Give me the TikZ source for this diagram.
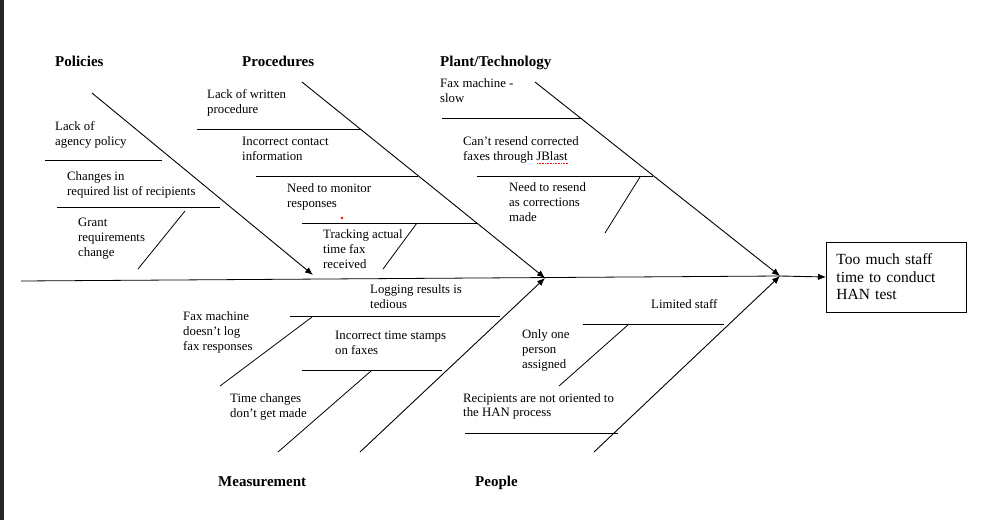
\documentclass[tikz,border=0pt]{standalone}
\usepackage{fontspec}
\setmainfont{Liberation Serif}
\usepackage{tikz}
\usetikzlibrary{arrows.meta}
\usetikzlibrary{positioning}

\begin{document}
\begin{tikzpicture}[x=1pt, y=-1pt,
        cause/.style={anchor=base west, inner sep=0pt, align=left, font=\fontsize{12.8}{14.7}\selectfont},
        group/.style={anchor=base west, inner sep=0pt, font=\fontsize{15}{18}\selectfont\bfseries},
        effect/.style={rectangle, draw=black, line width=0.9pt, anchor=west, text width=120pt, inner xsep=10pt, minimum height=70pt, align=left, font=\fontsize{15.5}{17.5}\selectfont},
        bone/.style={line width=0.8pt},
        spine/.style={line width=0.9pt, -{Latex[length=8pt,width=6.5pt]}}
      ]
        \useasboundingbox (0,0) rectangle (985,520);
        \fill[black!85] (0,0) rectangle (4,520);

        % main spine and effect
        \coordinate (tail) at (21,281);
        \coordinate (jA)   at (545,278);
        \coordinate (jB)   at (780,276);
        \node[effect] (effect) at (826,277) {Too much staff time to conduct HAN test};
        \draw[bone]  (tail) -- (jB);
        \draw[spine] (jB) -- (effect.west);

        % group labels
        \node[group] (policies)   at (55,66.7)  {Policies};
        \node[group] (procedures) at (242,66.7) {Procedures};
        \node[group] (plant)      at (440,66)   {Plant/Technology};
        \node[group] (measure)    at (218,486)  {Measurement};
        \node[group] (people)     at (475,486)  {People};

        % main bones
        \coordinate (polTop) at (92,93);
        \coordinate (polEnd) at (313,275);
        \coordinate (proTop) at (302,82);
        \coordinate (plaTop) at (535,82);
        \coordinate (meaBot) at (360,452);
        \coordinate (peoBot) at (594,452);
        \draw[spine] (polTop) -- (polEnd);
        \draw[spine] (proTop) -- (jA);
        \draw[spine] (plaTop) -- (jB);
        \draw[spine] (meaBot) -- (jA);
        \draw[spine] (peoBot) -- (jB);

        % policies (base = last line)
        \node[cause] (pol1) at (55,145) {Lack of\\agency policy};
        \node[cause] (pol2) at (67,195) {Changes in\\required list of recipients};
        \node[cause] (pol3) at (78,256) {Grant\\requirements\\change};
        \draw[bone] (45,160) -- (162,160);
        \draw[bone] (57,207) -- (220,207);
        \draw[bone] (185,211) -- (138,269);

        % procedures
        \node[cause] (pro1) at (207,113) {Lack of written\\procedure};
        \node[cause] (pro2) at (242,160) {Incorrect contact\\information};
        \node[cause] (pro3) at (287,207) {Need to monitor\\responses};
        \node[cause] (pro4) at (323,268) {Tracking actual\\time fax\\received};
        \draw[bone] (197,129) -- (360,129);
        \draw[bone] (256,176) -- (418,176);
        \draw[bone] (302,223) -- (477,223);
        \draw[bone] (417,223) -- (383,269);
        \fill[red] (342,218) circle (1.3);

        % plant/technology
        \node[cause] (pla1) at (440,102) {Fax machine -\\slow};
        \node[cause] (pla2) at (463,160) {Can't resend corrected\\faxes through JBlast};
        \node[cause] (pla3) at (509,221) {Need to resend\\as corrections\\made};
        \draw[bone] (442,118) -- (582,118);
        \draw[bone] (477,176) -- (653,176);
        \draw[bone] (640,177) -- (605,233);
        \draw[red, densely dotted, line width=0.6pt] (537,163) -- (568,163);

        % measurement
        \node[cause] (mea1) at (370,308) {Logging results is\\tedious};
        \node[cause] (mea2) at (183,350) {Fax machine\\doesn't log\\fax responses};
        \node[cause] (mea3) at (335,354) {Incorrect time stamps\\on faxes};
        \node[cause] (mea4) at (230,417) {Time changes\\don't get made};
        \draw[bone] (290,316) -- (500,316);
        \draw[bone] (312,317) -- (220,386);
        \draw[bone] (302,370) -- (442,370);
        \draw[bone] (371,371) -- (278,452);

        % people
        \node[cause] (peo1) at (651,308.3) {Limited staff};
        \node[cause] (peo2) at (522,368.3) {Only one\\person\\assigned};
        \node[cause] (peo3) at (463,416.7) {Recipients are not oriented to\\the HAN process};
        \draw[bone] (583,324) -- (724,324);
        \draw[bone] (629,324) -- (559,386);
        \draw[bone] (465,433) -- (618,433);
      \end{tikzpicture}
\end{document}
